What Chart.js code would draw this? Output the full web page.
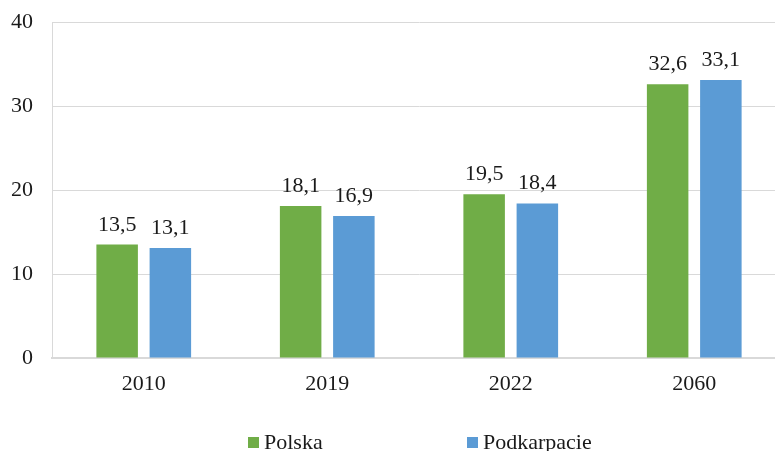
<!DOCTYPE html>
<html>
<head>
<meta charset="utf-8">
<script src="https://cdn.jsdelivr.net/npm/chart.js@4"></script>
<style>
  html, body { margin: 0; padding: 0; background: #fff; overflow: hidden; }
  #wrap { width: 786px; height: 451px; }
</style>
</head>
<body>
<div id="wrap"><canvas id="chart" width="786" height="451"></canvas></div>
<script>
const years = ["2010", "2019", "2022", "2060"];
const polska = [13.5, 18.1, 19.5, 32.6];
const podkarpacie = [13.1, 16.9, 18.4, 33.1];
const yTicks = [0, 10, 20, 30, 40];

const FONT = "'Liberation Serif', 'Times New Roman', serif";
const TEXT = "#1a1a1a";

// values above the bars, with a comma as decimal mark
const valueLabels = {
  id: "valueLabels",
  afterDatasetsDraw(chart) {
    const ctx = chart.ctx;
    ctx.save();
    ctx.font = "22px " + FONT;
    ctx.fillStyle = TEXT;
    ctx.textAlign = "center";
    ctx.textBaseline = "alphabetic";
    chart.data.datasets.forEach((ds, i) => {
      chart.getDatasetMeta(i).data.forEach((bar, j) => {
        ctx.fillText(ds.data[j].toFixed(1).replace(".", ","), bar.x, bar.y - 14);
      });
    });
    ctx.restore();
  }
};

// legend spread out like the original
const spreadLegend = {
  id: "spreadLegend",
  afterDraw(chart) {
    const ctx = chart.ctx;
    const xs = [248, 467];
    ctx.save();
    ctx.font = "22px " + FONT;
    ctx.textBaseline = "alphabetic";
    chart.data.datasets.forEach((ds, i) => {
      ctx.fillStyle = ds.backgroundColor;
      ctx.fillRect(xs[i], 437, 11, 11);
      ctx.fillStyle = TEXT;
      ctx.fillText(ds.label, xs[i] + 16, 449);
    });
    ctx.restore();
  }
};

new Chart(document.getElementById("chart"), {
  type: "bar",
  data: {
    labels: years,
    datasets: [
      { label: "Polska", data: polska, backgroundColor: "#70AD47" },
      { label: "Podkarpacie", data: podkarpacie, backgroundColor: "#5B9BD5" }
    ]
  },
  options: {
    responsive: false,
    animation: false,
    categoryPercentage: 0.58,
    barPercentage: 0.78,
    layout: { padding: { top: 22, right: 0, bottom: 0, left: 0 } },
    plugins: {
      legend: { display: false },
      tooltip: { enabled: false }
    },
    scales: {
      x: {
        grid: { display: false, drawTicks: false },
        border: { color: "#d9d9d9", width: 2 },
        ticks: { color: TEXT, font: { family: FONT, size: 22 }, padding: 13 },
        afterFit(scale) { scale.height = 93; scale.paddingLeft = 0; scale.paddingRight = 0; }
      },
      y: {
        min: 0,
        max: 40,
        afterBuildTicks(scale) { scale.ticks = yTicks.map(v => ({ value: v })); },
        grid: { color: "#d9d9d9", drawTicks: false },
        border: { color: "#d9d9d9", width: 1 },
        ticks: { color: TEXT, font: { family: FONT, size: 22 }, padding: 19 },
        afterFit(scale) { scale.width = 52; scale.paddingTop = 0; scale.paddingBottom = 0; }
      }
    }
  },
  plugins: [valueLabels, spreadLegend]
});
</script>
</body>
</html>
